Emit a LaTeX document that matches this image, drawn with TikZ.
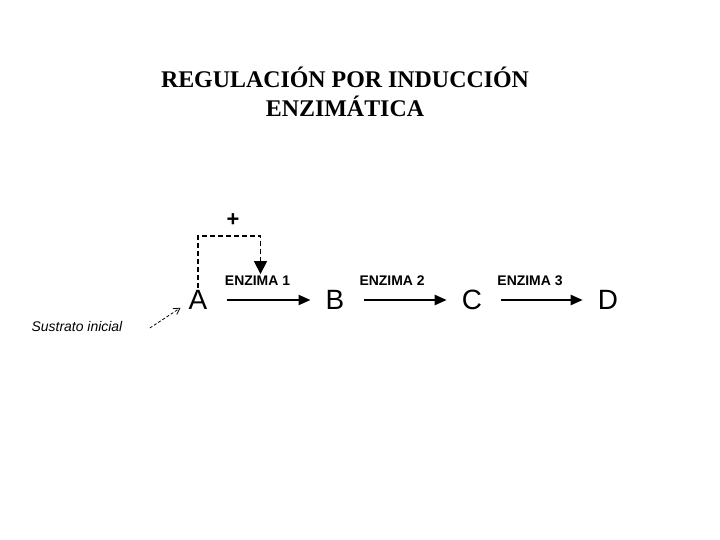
\documentclass[tikz,border=0pt]{standalone}
\usepackage{fontspec}
\setmainfont{Liberation Sans}
\newfontfamily\titlefont{Liberation Serif}
\usetikzlibrary{arrows.meta,positioning}

\begin{document}
\begin{tikzpicture}[
    x=1bp, y=-1bp,
    node distance=137bp, on grid,
    metab/.style={inner sep=2bp, font=\fontsize{28}{30}\selectfont},
    enz/.style={inner sep=1bp, font=\bfseries\fontsize{14}{16}\selectfont},
    arrow/.style={-{Triangle[length=12bp,width=10bp]}, line width=2.2bp, shorten <=17bp, shorten >=13bp},
    induce/.style={-{Triangle[length=13bp,width=13bp]}, line width=1.4bp, dash pattern=on 5bp off 3bp},
    pointer/.style={-{Straight Barb[length=6bp,width=7bp]}, line width=0.8bp, dash pattern=on 3bp off 2bp}
]
\useasboundingbox (0,0) rectangle (720,540);

\node[align=center, font=\titlefont\bfseries\fontsize{24}{29}\selectfont] (title) at (345,92)
    {REGULACIÓN POR INDUCCIÓN\\ENZIMÁTICA};

% pathway
\node[metab] (A) at (198,300) {A};
\node[metab, right=of A] (B) {B};
\node[metab, right=of B] (C) {C};
\node[metab, right=136bp of C] (D) {D};

\draw[arrow] (A) -- node[enz, yshift=19bp, xshift=-9bp] (e1) {ENZIMA 1} (B);
\draw[arrow] (B) -- node[enz, yshift=19bp, xshift=-11bp] (e2) {ENZIMA 2} (C);
\draw[arrow] (C) -- node[enz, yshift=19bp, xshift=-10bp] (e3) {ENZIMA 3} (D);

% induction by substrate
\coordinate (bend) at (198,236);
\draw[induce] (A.north) -- (bend) -| ([xshift=3bp]e1.north);
\node[font=\bfseries\fontsize{22}{22}\selectfont] (plus) at (233,220) {+};

\node[font=\itshape\fontsize{14}{16}\selectfont] (sust) at (77,327) {Sustrato inicial};
\draw[pointer] ([xshift=24bp,yshift=-1bp]sust.east) -- ([xshift=-6bp,yshift=4bp]A.south west);
\end{tikzpicture}
\end{document}
